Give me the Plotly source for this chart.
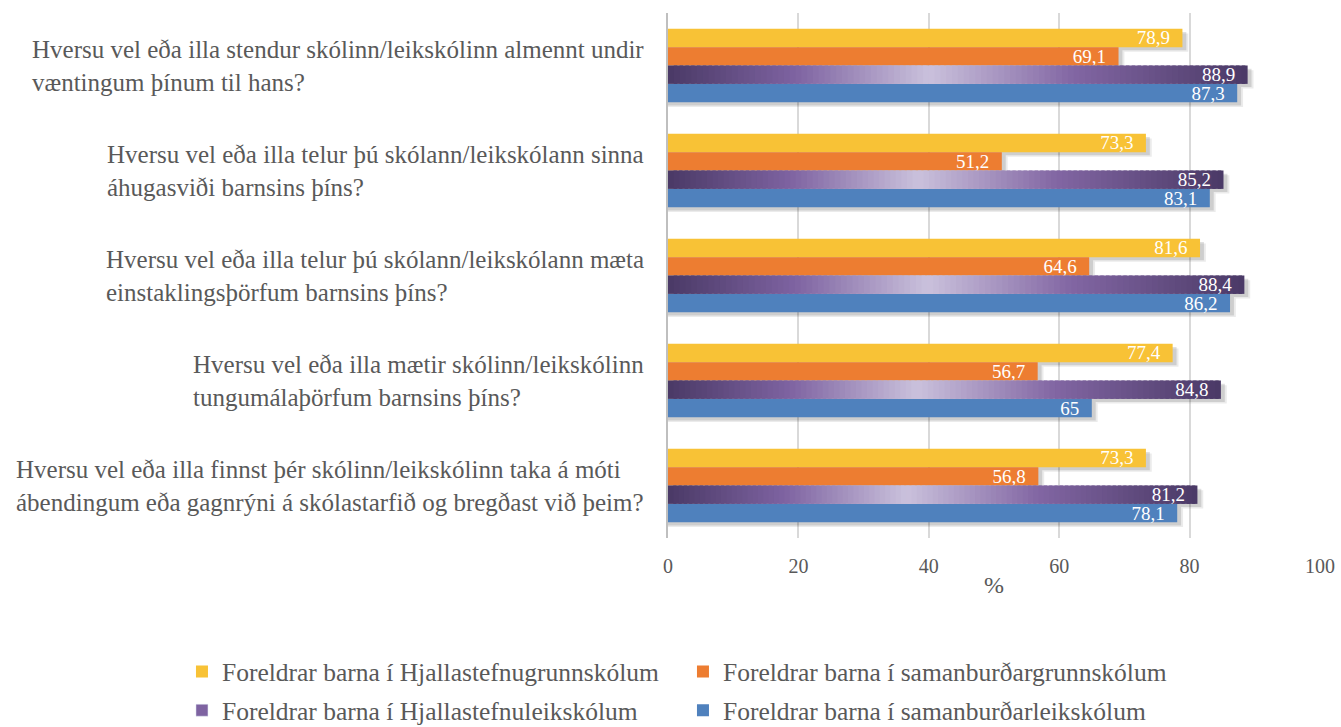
import plotly.graph_objects as go

# questions (top to bottom)
questions = [
    "Hversu vel eða illa stendur skólinn/leikskólinn almennt undir<br>væntingum þínum til hans?",
    "Hversu vel eða illa telur þú skólann/leikskólann sinna<br>áhugasviði barnsins þíns?",
    "Hversu vel eða illa telur þú skólann/leikskólann mæta<br>einstaklingsþörfum barnsins þíns?",
    "Hversu vel eða illa mætir skólinn/leikskólinn<br>tungumálaþörfum barnsins þíns?",
    "Hversu vel eða illa finnst þér skólinn/leikskólinn taka á móti<br>ábendingum eða gagnrýni á skólastarfið og bregðast við þeim?",
]
cat_ids = ["q1", "q2", "q3", "q4", "q5"]

series_names = [
    "Foreldrar barna í Hjallastefnugrunnskólum",
    "Foreldrar barna í samanburðargrunnskólum",
    "Foreldrar barna í Hjallastefnuleikskólum",
    "Foreldrar barna í samanburðarleikskólum",
]
hjalla_grunn = [78.9, 73.3, 81.6, 77.4, 73.3]
saman_grunn = [69.1, 51.2, 64.6, 56.7, 56.8]
hjalla_leik = [88.9, 85.2, 88.4, 84.8, 81.2]
saman_leik = [87.3, 83.1, 86.2, 65, 78.1]

x_ticks = [0, 20, 40, 60, 80, 100]

FONT = "Liberation Serif"
GREY = "#595959"
bar_w = 0.175
offsets = [-0.35, -0.175, 0.0, 0.175]


def lab(v):
    return f"{v:g}".replace(".", ",") + "\u00a0\u00a0"


def hex2rgb(h):
    h = h.lstrip("#")
    return tuple(int(h[i:i + 2], 16) for i in (0, 2, 4))


def grad_color(t, stops):
    for (t0, c0), (t1, c1) in zip(stops, stops[1:]):
        if t0 <= t <= t1:
            f = (t - t0) / (t1 - t0) if t1 > t0 else 0
            a, b = hex2rgb(c0), hex2rgb(c1)
            return "rgb(%d,%d,%d)" % tuple(round(a[i] + (b[i] - a[i]) * f) for i in range(3))
    return stops[-1][1]


purple_stops = [(0, "#4A3966"), (0.22, "#7E63A1"), (0.45, "#CAC1DC"),
                (0.7, "#8266A3"), (1, "#4A3966")]

fig = go.Figure()

all_vals = [hjalla_grunn, saman_grunn, hjalla_leik, saman_leik]

# soft shadows behind bars
for vals, off in zip(all_vals, offsets):
    for dx, dy, a in [(0.9, 0.045, 0.08), (0.6, 0.03, 0.12)]:
        fig.add_trace(go.Bar(
            y=cat_ids, x=[v + dx for v in vals], orientation="h",
            offset=off + dy, width=bar_w,
            marker=dict(color=f"rgba(0,0,0,{a})", line=dict(width=0)),
            showlegend=False, hoverinfo="skip"))

# yellow, orange
for vals, off, name, col, lg in [(hjalla_grunn, offsets[0], series_names[0], "#F8C236", "legend"),
                                 (saman_grunn, offsets[1], series_names[1], "#ED7D31", "legend2")]:
    fig.add_trace(go.Bar(
        y=cat_ids, x=vals, orientation="h", offset=off, width=bar_w, name=name,
        marker=dict(color=col, line=dict(width=0)), legend=lg,
        text=[lab(v) for v in vals], textposition="inside", insidetextanchor="end",
        textangle=0, constraintext="none",
        textfont=dict(family=FONT, size=19, color="white")))

# purple gradient bar, built from segments
N = 100
seg_y, seg_x, seg_base, seg_col = [], [], [], []
for c, v in zip(cat_ids, hjalla_leik):
    for k in range(N):
        seg_y.append(c)
        seg_x.append(v / N * (1.6 if k < N - 1 else 1.0))
        seg_base.append(v / N * k)
        seg_col.append(grad_color((k + 0.5) / N, purple_stops))
fig.add_trace(go.Bar(
    y=seg_y, x=seg_x, base=seg_base, orientation="h", offset=offsets[2], width=bar_w,
    marker=dict(color=seg_col, line=dict(width=0)), showlegend=False, hoverinfo="skip"))
fig.add_trace(go.Bar(
    y=cat_ids, x=hjalla_leik, orientation="h", offset=offsets[2], width=bar_w,
    name=series_names[2], marker=dict(color="rgba(0,0,0,0)", line=dict(width=0)),
    text=[lab(v) for v in hjalla_leik], textposition="inside", insidetextanchor="end",
    textangle=0, constraintext="none",
    textfont=dict(family=FONT, size=19, color="white"), showlegend=False))
# legend entry for purple
fig.add_trace(go.Bar(
    y=[None], x=[None], orientation="h", name=series_names[2],
    marker=dict(color="#7E63A1"), legend="legend3"))

fig.add_trace(go.Bar(
    y=cat_ids, x=saman_leik, orientation="h", offset=offsets[3], width=bar_w,
    name=series_names[3], marker=dict(color="#4F81BD", line=dict(width=0)),
    text=[lab(v) for v in saman_leik], textposition="inside", insidetextanchor="end",
    textangle=0, constraintext="none",
    textfont=dict(family=FONT, size=19, color="white"), legend="legend4"))

# question labels, left aligned block ending near the axis
for c, q in zip(cat_ids, questions):
    fig.add_annotation(x=0, xref="paper", y=c, yref="y", text=q, showarrow=False,
                       xanchor="right", align="left", xshift=-22,
                       font=dict(family=FONT, size=25, color=GREY))

leg = dict(orientation="h", xanchor="left", xref="container",
           yref="container", yanchor="middle",
           font=dict(family=FONT, size=25.5, color=GREY), bgcolor="rgba(0,0,0,0)")
col_x = [0.1357, 0.5093]
row_y = [0.0757, 0.0225]

fig.update_layout(
    width=1341, height=727,
    margin=dict(l=668, r=21, t=13, b=189),
    barmode="overlay",
    plot_bgcolor="white", paper_bgcolor="white",
    font=dict(family=FONT, color=GREY),
    legend=dict(leg, x=col_x[0], y=row_y[0]),
    legend2=dict(leg, x=col_x[1], y=row_y[0]),
    legend3=dict(leg, x=col_x[0], y=row_y[1]),
    legend4=dict(leg, x=col_x[1], y=row_y[1]),
    xaxis=dict(range=[0, 100], tickvals=x_ticks, showgrid=True, gridcolor="#D9D9D9",
               gridwidth=1.5, zeroline=False, showline=False, ticks="",
               ticklabelstandoff=14, automargin=False,
               tickfont=dict(family=FONT, size=20, color=GREY),
               title=dict(text="%", font=dict(family=FONT, size=24, color=GREY), standoff=0)),
    yaxis=dict(categoryorder="array", categoryarray=cat_ids, autorange="reversed",
               showticklabels=False, showgrid=False, showline=True, automargin=False,
               linecolor="#BFBFBF", linewidth=2, ticks=""),
)

# drop the default 8px page margin so the figure fills the window exactly
fig.write_html("out.html", config={"displayModeBar": False},
               post_script="document.body.style.margin='0';")
